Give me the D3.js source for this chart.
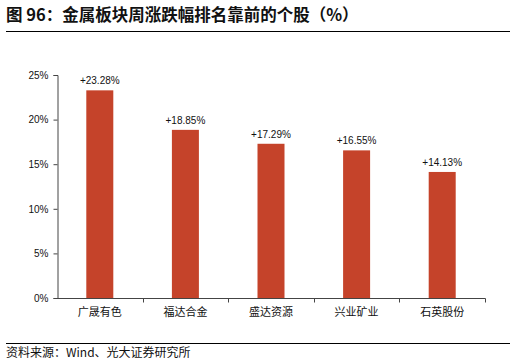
<!DOCTYPE html>
<html>
  <head>
    <meta charset="utf-8">
    <script src="https://d3js.org/d3.v7.min.js"></script>
    <style>
      body { margin: 0; background: #fff; }
      svg text { fill: #111; }
    </style>
  </head>
<body>
  <script type="text/javascript">
    // data
    var stocks = ["广晟有色", "福达合金", "盛达资源", "兴业矿业", "石英股份"];
    var weekChange = [23.28, 18.85, 17.29, 16.55, 14.13];
    var yTicks = [0, 5, 10, 15, 20, 25];

    var width = 516,
        height = 363;

    var svg = d3.select("body")
        .append("svg")
          .attr("width", width)
          .attr("height", height);

    // title and rules
    svg.append("text")
        .attr("x", 6)
        .attr("y", 21)
        .style("font-family", "'Noto Sans CJK SC', sans-serif")
        .style("font-size", "16.5px")
        .style("font-weight", "bold")
        .text("图 96：金属板块周涨跌幅排名靠前的个股（%）");

    svg.append("line")
        .attr("x1", 6).attr("x2", 510)
        .attr("y1", 31.5).attr("y2", 31.5)
        .attr("stroke", "#000").attr("stroke-width", 1);

    svg.append("line")
        .attr("x1", 6).attr("x2", 510)
        .attr("y1", 343.5).attr("y2", 343.5)
        .attr("stroke", "#000").attr("stroke-width", 1);

    svg.append("text")
        .attr("x", 6)
        .attr("y", 357)
        .style("font-family", "'Noto Sans CJK SC', sans-serif")
        .style("font-size", "12px")
        .text("资料来源：Wind、光大证券研究所");

    // chart
    var x = d3.scaleBand()
        .domain(stocks)
        .range([57, 485]);

    var y = d3.scaleLinear()
        .domain([0, 25])
        .range([298, 75]);

    var yAxis = d3.axisLeft(y)
        .tickValues(yTicks)
        .tickSize(4)
        .tickFormat(function (d) { return d + "%"; });

    var gy = svg.append("g")
        .attr("transform", "translate(57.5,0)")
        .call(yAxis);
    gy.select(".domain").attr("stroke", "#444");
    gy.selectAll(".tick line").attr("stroke", "#444");
    gy.selectAll(".tick text")
        .attr("x", -9)
        .style("font-family", "'Liberation Sans', Arial, sans-serif")
        .style("font-size", "10px")
        .attr("fill", "#111");

    // x axis: ticks at category boundaries
    var gx = svg.append("g")
        .attr("transform", "translate(0,298.5)");
    gx.append("line")
        .attr("x1", 57).attr("x2", 485.5)
        .attr("stroke", "#444");
    gx.selectAll("line.sep")
        .data(stocks)
        .enter()
        .append("line")
          .attr("class", "sep")
          .attr("x1", function (d) { return Math.round(x(d) + x.bandwidth()) + 0.5; })
          .attr("x2", function (d) { return Math.round(x(d) + x.bandwidth()) + 0.5; })
          .attr("y1", 0).attr("y2", 4)
          .attr("stroke", "#444");
    gx.selectAll("text")
        .data(stocks)
        .enter()
        .append("text")
          .attr("x", function (d) { return x(d) + x.bandwidth() / 2; })
          .attr("y", 17)
          .attr("text-anchor", "middle")
          .style("font-family", "'Noto Sans CJK SC', sans-serif")
          .style("font-size", "11px")
          .attr("fill", "#222")
          .text(function (d) { return d; });

    var barW = 27;

    svg.selectAll("rect.bar")
        .data(weekChange)
        .enter()
        .append("rect")
          .attr("class", "bar")
          .attr("x", function (d, i) { return x(stocks[i]) + x.bandwidth() / 2 - barW / 2; })
          .attr("y", function (d) { return y(d); })
          .attr("width", barW)
          .attr("height", function (d) { return y(0) - y(d); })
          .attr("fill", "#C5432A");

    svg.selectAll("text.val")
        .data(weekChange)
        .enter()
        .append("text")
          .attr("class", "val")
          .attr("x", function (d, i) { return x(stocks[i]) + x.bandwidth() / 2; })
          .attr("y", function (d) { return y(d) - 6; })
          .attr("text-anchor", "middle")
          .style("font-family", "'Liberation Sans', Arial, sans-serif")
          .style("font-size", "10px")
          .text(function (d) { return "+" + d.toFixed(2) + "%"; });
  </script>
</body>
</html>
